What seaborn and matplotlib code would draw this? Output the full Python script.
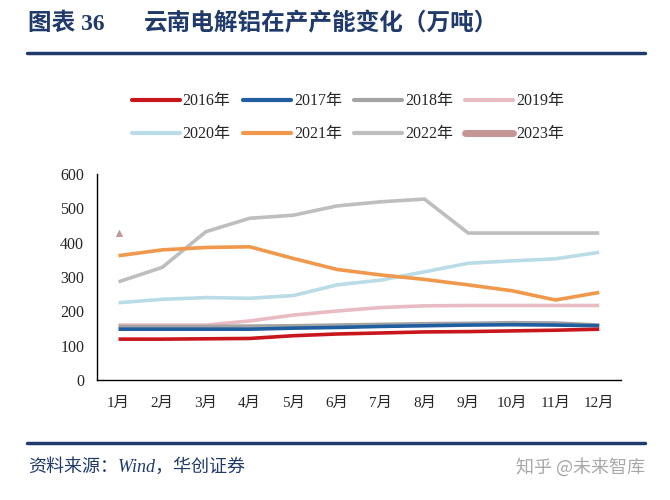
import matplotlib
matplotlib.use("Agg")
import matplotlib.pyplot as plt
import seaborn as sns
import pandas as pd
import numpy as np
from matplotlib.lines import Line2D

months = ["1月", "2月", "3月", "4月", "5月", "6月", "7月", "8月", "9月", "10月", "11月", "12月"]
s2016 = [119, 119, 120, 121, 129, 134, 137, 140, 141, 143, 145, 148]
s2017 = [148, 148, 148, 148, 151, 153, 156, 158, 160, 161, 160, 158]
s2018 = [156, 156, 156, 157, 158, 160, 162, 164, 165, 167, 166, 160]
s2019 = [160, 160, 160, 172, 189, 201, 211, 216, 217, 217, 217, 217]
s2020 = [225, 235, 240, 238, 246, 277, 291, 315, 340, 347, 353, 372]
s2021 = [362, 379, 386, 388, 354, 322, 306, 293, 277, 260, 233, 255]
s2022 = [286, 328, 432, 471, 480, 507, 519, 527, 428, 428, 428, 428]
s2023 = [428]
years = ["2016年", "2017年", "2018年", "2019年", "2020年", "2021年", "2022年", "2023年"]
colors = ["#C8161D", "#1F5FA0", "#A3A3A3", "#E8BCC2", "#B9DCE7", "#F0984C", "#BEBEBE", "#C39595"]

sns.set_theme(style="white")
plt.rcParams["font.family"] = ["Liberation Serif", "Noto Sans CJK SC"]

rows = []
for yr, vals in zip(years, [s2016, s2017, s2018, s2019, s2020, s2021, s2022, s2023]):
    for i, v in enumerate(vals):
        rows.append({"year": yr, "m": i, "v": v})
df = pd.DataFrame(rows)

fig = plt.figure(figsize=(6.7, 5), dpi=100)
ax = fig.add_axes([0.1443, 0.24, 0.927 - 0.1443, 0.412])

order_draw = ["2019年", "2020年", "2022年", "2021年", "2018年", "2017年", "2016年"]
for yr in order_draw:
    c = colors[years.index(yr)]
    sns.lineplot(data=df[df.year == yr], x="m", y="v", color=c, lw=2.6, ax=ax,
                 legend=False, solid_capstyle="butt")
sns.scatterplot(data=df[df.year == "2023年"], x="m", y="v", color=colors[7], marker="^",
                s=22, edgecolor=colors[7], ax=ax, legend=False)

ax.set_xlim(-0.5, 11.5)
ax.set_ylim(0, 600)
ax.set_xticks(np.arange(-0.5, 12, 1))
ax.set_xticklabels([])
ax.set_xticks(np.arange(12), minor=True)
ax.set_xticklabels(months, minor=True)
ax.tick_params(axis="x", which="minor", length=0, pad=12, labelsize=11)
ax.tick_params(axis="x", which="major", length=5, width=1, color="black", direction="out")
ax.set_yticks(np.arange(0, 601, 100))
ax.tick_params(axis="y", length=5, width=1, color="black", direction="out", labelsize=11.5, pad=4)
ax.set_xlabel("")
ax.set_ylabel("")
for s in ["top", "right"]:
    ax.spines[s].set_visible(False)
for s in ["left", "bottom"]:
    ax.spines[s].set_color("black")
    ax.spines[s].set_linewidth(1)

handles = []
for i, (yr, c) in enumerate(zip(years, colors)):
    handles.append(Line2D([0], [0], color=c, lw=5 if i == 7 else 3))
# reorder so that legend reads row-wise (matplotlib fills by column)
idx = [0, 4, 1, 5, 2, 6, 3, 7]
fig.legend([handles[i] for i in idx], [years[i] for i in idx], loc="upper left",
           bbox_to_anchor=(0.175, 0.842), ncol=4,
           frameon=False, fontsize=11.5, handlelength=3.0, handletextpad=0.2,
           columnspacing=0.75, labelspacing=1.05)

navy = "#1F3A6B"
fig.text(0.042, 0.953, "图表 36", fontsize=17, fontweight="bold",
         color=navy, family=["Liberation Serif", "Noto Sans CJK SC"], va="center", ha="left")
fig.text(0.215, 0.953, "云南电解铝在产产能变化（万吨）", fontsize=17, fontweight="bold",
         color=navy, family=["Noto Sans CJK SC"], va="center", ha="left")
fig.add_artist(Line2D([0.04, 0.963], [0.895, 0.895], color=navy, lw=2.5))
fig.add_artist(Line2D([0.04, 0.963], [0.114, 0.114], color=navy, lw=2.5))
fig.text(0.042, 0.066, "资料来源：Wind，华创证券", fontsize=13, style="italic", color=navy,
         family=["Liberation Serif", "Noto Sans CJK SC"], va="center", ha="left")
fig.text(0.963, 0.066, "知乎 @未来智库", fontsize=13, color="#A8A8A8",
         family=["Noto Sans CJK SC"], va="center", ha="right")

fig.savefig("out.png", dpi=100)
